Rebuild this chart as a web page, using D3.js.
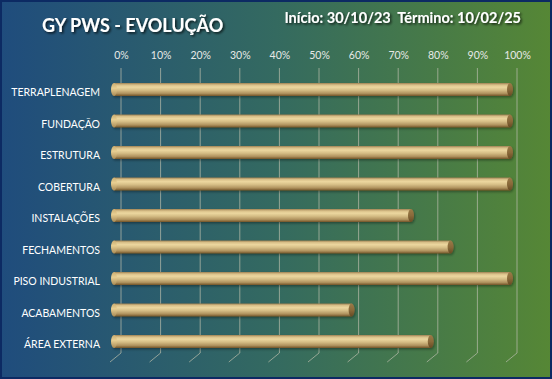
<!DOCTYPE html>
<html><head><meta charset="utf-8">
<script src="https://cdn.jsdelivr.net/npm/d3@7"></script>
<style>body{margin:0;background:#fff}svg{display:block}</style>
</head><body>
<script>
const categories = ["TERRAPLENAGEM","FUNDAÇÃO","ESTRUTURA","COBERTURA","INSTALAÇÕES","FECHAMENTOS","PISO INDUSTRIAL","ACABAMENTOS","ÁREA EXTERNA"];
const values = [100,100,100,100,75,85,100,60,80];
const tickValues = [0,10,20,30,40,50,60,70,80,90,100];
const tickLabels = ["0%","10%","20%","30%","40%","50%","60%","70%","80%","90%","100%"];
const title = "GY PWS - EVOLUÇÃO";
const subtitle = "Início: 30/10/23  Término: 10/02/25";

const W = 552, H = 379;
const svg = d3.select("body").append("svg").attr("width", W).attr("height", H);
const defs = svg.append("defs");

const bg = defs.append("linearGradient").attr("id","bg").attr("x1","0").attr("x2","1").attr("y1","0").attr("y2","0");
bg.append("stop").attr("offset","0").attr("stop-color","#1f4c7d");
bg.append("stop").attr("offset","0.5").attr("stop-color","#346a60");
bg.append("stop").attr("offset","1").attr("stop-color","#568735");

const cyl = defs.append("linearGradient").attr("id","cyl").attr("x1","0").attr("x2","0").attr("y1","0").attr("y2","1");
[[0,"#9e8152"],[0.15,"#d9c089"],[0.32,"#ecd79f"],[0.55,"#d5bd85"],[0.8,"#b0935f"],[1,"#725326"]].forEach(s=>cyl.append("stop").attr("offset",s[0]).attr("stop-color",s[1]));
const capL = defs.append("linearGradient").attr("id","capL").attr("x1","0").attr("x2","0").attr("y1","0").attr("y2","1");
[[0,"#c9ac70"],[0.4,"#e8cf92"],[1,"#a88a55"]].forEach(s=>capL.append("stop").attr("offset",s[0]).attr("stop-color",s[1]));
const capR = defs.append("linearGradient").attr("id","capR").attr("x1","0").attr("x2","0").attr("y1","0").attr("y2","1");
[[0,"#9a7a48"],[0.5,"#8a6a3a"],[1,"#664a24"]].forEach(s=>capR.append("stop").attr("offset",s[0]).attr("stop-color",s[1]));

const sh = defs.append("filter").attr("id","sh").attr("x","-10%").attr("y","-30%").attr("width","130%").attr("height","170%");
sh.append("feDropShadow").attr("dx",1.5).attr("dy",1.5).attr("stdDeviation",1).attr("flood-color","#000").attr("flood-opacity",0.75);
const bsh = defs.append("filter").attr("id","bsh").attr("x","-5%").attr("y","-50%").attr("width","110%").attr("height","220%");
bsh.append("feDropShadow").attr("dx",1).attr("dy",1.5).attr("stdDeviation",1).attr("flood-color","#000").attr("flood-opacity",0.35);

svg.append("rect").attr("x",0).attr("y",0).attr("width",W).attr("height",H).attr("fill","url(#bg)");
svg.append("rect").attr("x",1).attr("y",1).attr("width",W-2).attr("height",H-2).attr("fill","none").attr("stroke","#0c2a63").attr("stroke-width",2);

// scales
const depth = 7;
const xFront = d3.scaleLinear().domain([0,100]).range([114,510]);
const xBack = d3.scaleLinear().domain([0,100]).range([114+depth,510+depth]);
const y = d3.scalePoint().domain(categories).range([89.5,341.5]);

// gridlines
const gTop = 68, gBot = 353;
const grid = svg.append("g");
grid.selectAll("path").data(tickValues).join("path")
  .attr("d", d => `M${xBack(d)},${gTop}V${gBot}l-11,9`)
  .attr("fill","none").attr("stroke","#b4b9a8").attr("stroke-opacity",0.75).attr("stroke-width",1);

// top axis labels
const axT = svg.append("g").attr("transform",`translate(0,${59})`)
  .call(d3.axisTop(xBack).tickValues(tickValues).tickFormat((d,i)=>tickLabels[i]).tickSize(0).tickPadding(0));
axT.select(".domain").remove();
axT.selectAll("text").attr("fill","#e6e9e6").attr("font-family","Lato, 'Open Sans', sans-serif").attr("font-size",10.5).attr("dy","0");

// left labels
const axL = svg.append("g").attr("transform",`translate(100,3)`)
  .call(d3.axisLeft(y).tickSize(0).tickPadding(0));
axL.select(".domain").remove();
axL.selectAll("text").attr("fill","#ffffff").attr("font-family","Lato, 'Open Sans', sans-serif").attr("font-size",10.5);

// bars
const bh = 13, rx = 3;
const bars = svg.append("g").selectAll("g").data(categories).join("g").attr("filter","url(#bsh)");
bars.append("rect")
  .attr("x", d => xFront(0))
  .attr("y", d => y(d)-bh/2)
  .attr("width", (d,i) => xFront(values[i]) - xFront(0))
  .attr("height", bh)
  .attr("fill","url(#cyl)");
bars.append("ellipse")
  .attr("cx", (d,i) => xFront(values[i]))
  .attr("cy", d => y(d))
  .attr("rx", rx).attr("ry", bh/2)
  .attr("fill","url(#capR)");
bars.append("ellipse")
  .attr("cx", d => xFront(0))
  .attr("cy", d => y(d))
  .attr("rx", rx).attr("ry", bh/2)
  .attr("fill","url(#capL)");

// titles
svg.append("text").attr("x",42).attr("y",32).text(title)
  .attr("fill","#ffffff").attr("font-family","Lato, 'Open Sans', sans-serif").attr("font-weight","bold").attr("font-size",18)
  .attr("filter","url(#sh)");
svg.append("text").attr("x",521).attr("y",23).attr("text-anchor","end").text(subtitle)
  .attr("fill","#ffffff").attr("font-family","Lato, 'Open Sans', sans-serif").attr("font-weight","bold").attr("font-size",14.5)
  .style("white-space","pre")
  .attr("filter","url(#sh)");
</script>
</body></html>
